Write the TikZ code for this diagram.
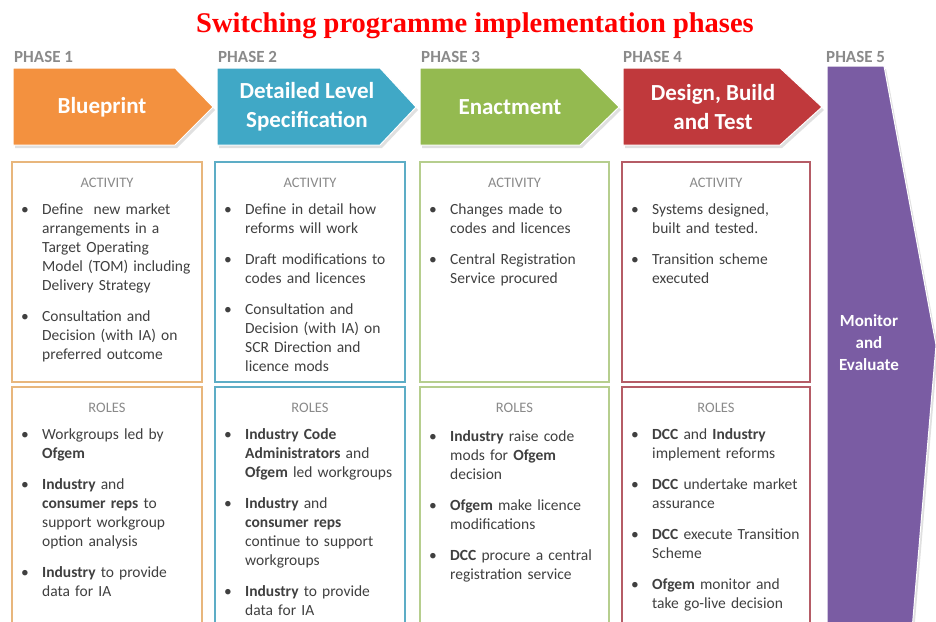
\documentclass[tikz,border=0pt]{standalone}
\usepackage{fontspec}
\setmainfont{Carlito}
\newfontfamily\titlefont{Liberation Serif}

\definecolor{phorange}{HTML}{F3913F}
\definecolor{phblue}{HTML}{40A8C6}
\definecolor{phgreen}{HTML}{94BA50}
\definecolor{phred}{HTML}{C0393C}
\definecolor{phpurple}{HTML}{7A5CA3}
\definecolor{edgeorange}{HTML}{E8B67C}
\definecolor{edgeblue}{HTML}{5DADC6}
\definecolor{edgegreen}{HTML}{B6CE8E}
\definecolor{edgered}{HTML}{B55C66}
\definecolor{labelgray}{HTML}{8A8A8A}
\definecolor{textgray}{HTML}{404040}

% one bullet item, hanging indent, lines broken by hand
\newcommand{\itm}[1]{\par\hangindent=21pt\hangafter=1\noindent
  \makebox[21pt][l]{\textbullet}\strut#1\par}

% chevron: left, end of body, tip, colour
\newcommand{\chevron}[4]{%
  \fill[black!12, shift={(2,3)}] (#1,68) -- (#2,68) -- (#3,107) -- (#2,145) -- (#1,145) -- cycle;
  \filldraw[fill=#4, draw=white, line width=1pt] (#1,68) -- (#2,68) -- (#3,107) -- (#2,145) -- (#1,145) -- cycle;
}

\tikzset{
  phaselbl/.style={anchor=base west, inner sep=0pt, text=labelgray,
    font=\fontsize{17}{20}\selectfont\bfseries},
  arrowtxt/.style={inner sep=0pt, align=center, text=white,
    font=\fontsize{23}{29}\selectfont\bfseries},
  headlbl/.style={inner sep=0pt, text=labelgray, font=\fontsize{14.5}{17}\selectfont},
  boxline/.style={line width=2pt},
  boxtext/.style={anchor=north west, inner sep=0pt, text width=178pt, align=left,
    text=textgray, font=\fontsize{15.5}{19}\selectfont,
    execute at begin node={\setlength{\parskip}{12pt}}},
}

\begin{document}
\begin{tikzpicture}[x=1pt,y=-1pt]
  \useasboundingbox (0,0) rectangle (936,621);
  \clip (0,0) rectangle (936,621);
  \fill[white] (0,0) rectangle (936,621);
%
  \node[anchor=base, inner sep=0pt, text=red, font=\titlefont\bfseries\fontsize{28.5}{30}\selectfont]
    (title) at (475,32) {Switching programme implementation phases};
%
  % phase headers
  \node[phaselbl] (ph1) at (14,62) {PHASE 1};
  \node[phaselbl] (ph2) at (218,62) {PHASE 2};
  \node[phaselbl] (ph3) at (421,62) {PHASE 3};
  \node[phaselbl] (ph4) at (623,62) {PHASE 4};
  \node[phaselbl] (ph5) at (826,62) {PHASE 5};
%
  \chevron{13}{175}{213}{phorange}
  \chevron{217}{380}{416}{phblue}
  \chevron{420}{580}{619}{phgreen}
  \chevron{623}{780}{822}{phred}
  % last phase runs down the whole height
  \fill[black!12, shift={(2,3)}] (827,66) -- (884,66) -- (936,345) -- (912,630) -- (827,630) -- cycle;
  \filldraw[fill=phpurple, draw=white, line width=1pt] (827,66) -- (884,66) -- (936,345) -- (912,630) -- (827,630) -- cycle;
%
  \node[arrowtxt] (blueprint) at (102,107) {Blueprint};
  \node[arrowtxt] (detailed) at (307,107) {Detailed Level\\Specification};
  \node[arrowtxt] (enact) at (510,107) {Enactment};
  \node[arrowtxt] (design) at (713,107) {Design, Build\\and Test};
  \node[arrowtxt, font=\fontsize{17}{22}\selectfont\bfseries] (monitor) at (869,343) {Monitor\\and\\Evaluate};
%
  \foreach \xl/\xr/\col [count=\i] in {12/202/edgeorange, 215/405/edgeblue, 420/609/edgegreen, 622/810/edgered}{
    \draw[boxline, draw=\col] (\xl,162) rectangle (\xr,382);
    \draw[boxline, draw=\col] (\xl,387) rectangle (\xr,640);
    \node[headlbl] (acthead\i) at ({(\xl+\xr)/2},183) {ACTIVITY};
    \node[headlbl] (rolhead\i) at ({(\xl+\xr)/2},408) {ROLES};
  }
%
  % activities
  \node[boxtext] (act1) at (21,183) {%
    \itm{Define~ new market\newline arrangements in a\newline Target Operating\newline Model (TOM) including\newline Delivery Strategy}
    \itm{Consultation and\newline Decision (with IA) on\newline preferred outcome}};
  \node[boxtext] (act2) at (224,183) {%
    \itm{Define in detail how\newline reforms will work}
    \itm{Draft modifications to\newline codes and licences}
    \itm{Consultation and\newline Decision (with IA) on\newline SCR Direction and\newline licence mods}};
  \node[boxtext] (act3) at (429,183) {%
    \itm{Changes made to\newline codes and licences}
    \itm{Central Registration\newline Service procured}};
  \node[boxtext] (act4) at (631,183) {%
    \itm{Systems designed,\newline built and tested.}
    \itm{Transition scheme\newline executed}};
%
  % roles
  \node[boxtext] (rol1) at (21,408) {%
    \itm{Workgroups led by\newline \textbf{Ofgem}}
    \itm{\textbf{Industry} and\newline \textbf{consumer reps} to\newline support workgroup\newline option analysis}
    \itm{\textbf{Industry} to provide\newline data for IA}};
  \node[boxtext] (rol2) at (224,408) {%
    \itm{\textbf{Industry Code}\newline \textbf{Administrators} and\newline \textbf{Ofgem} led workgroups}
    \itm{\textbf{Industry} and\newline \textbf{consumer reps}\newline continue to support\newline workgroups}
    \itm{\textbf{Industry} to provide\newline data for IA}};
  \node[boxtext] (rol3) at (429,410) {%
    \itm{\textbf{Industry} raise code\newline mods for \textbf{Ofgem}\newline decision}
    \itm{\textbf{Ofgem} make licence\newline modifications}
    \itm{\textbf{DCC} procure a central\newline registration service}};
  \node[boxtext] (rol4) at (631,408) {%
    \itm{\textbf{DCC} and \textbf{Industry}\newline implement reforms}
    \itm{\textbf{DCC} undertake market\newline assurance}
    \itm{\textbf{DCC} execute Transition\newline Scheme}
    \itm{\textbf{Ofgem} monitor and\newline take go-live decision}};
\end{tikzpicture}
\end{document}
